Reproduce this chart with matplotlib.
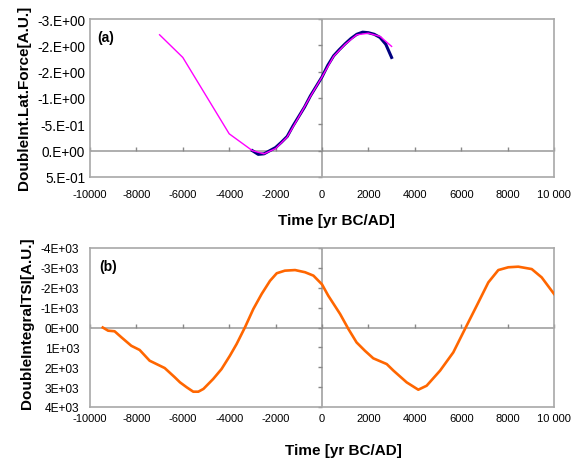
import matplotlib
matplotlib.use('Agg')
import matplotlib.pyplot as plt
from matplotlib.markers import TICKUP, TICKLEFT

plt.rcParams['font.family'] = ['Liberation Sans', 'DejaVu Sans']

# (a) double integral of the lateral force
lat_mod_years = [-7000, -6000, -4000, -3000, -2500, -2000, -1500, -1000,
                 -500, 0, 500, 1000, 1500, 2000, 2500, 3000]
lat_mod_vals = [-2.20, -1.77, -0.32, 0.00, 0.06, -0.04, -0.26, -0.64,
                -1.03, -1.40, -1.79, -2.02, -2.20, -2.23, -2.17, -1.98]

lat_obs_years = [-3000, -2750, -2500, -2250, -2000, -1750, -1500, -1250,
                 -1000, -750, -500, -250, 0, 250, 500, 750, 1000, 1250,
                 1500, 1750, 2000, 2250, 2500, 2750, 3000]
lat_obs_vals = [0.00, 0.07, 0.06, 0.00, -0.06, -0.16, -0.27, -0.47,
                -0.65, -0.83, -1.04, -1.22, -1.40, -1.62, -1.80, -1.92,
                -2.03, -2.13, -2.21, -2.25, -2.24, -2.21, -2.15, -2.02, -1.77]

# (b) double integral of TSI
tsi_years = [-9450, -9220, -8940, -8650, -8220, -7860, -7430, -6780,
             -6350, -6120, -5830, -5550, -5330, -5110, -4690, -4330,
             -3970, -3680, -3320, -2960, -2600, -2240, -1950, -1600,
             -1160, -730, -370, 0, 270, 780, 1140, 1490, 1850, 2210,
             2790, 3080, 3650, 4150, 4510, 5090, 5660, 6160, 6670,
             7170, 7600, 8030, 8460, 9040, 9470, 10000]
tsi_vals = [0, 160, 190, 490, 920, 1130, 1670, 2040,
            2500, 2760, 3010, 3230, 3230, 3090, 2590, 2090,
            1420, 830, -10, -930, -1690, -2350, -2730, -2860,
            -2890, -2780, -2610, -2170, -1600, -680, 80, 750, 1170, 1550,
            1840, 2170, 2760, 3130, 2930, 2170, 1250, 80, -1100,
            -2270, -2890, -3030, -3060, -2940, -2520, -1690]

x_ticks = list(range(-10000, 10001, 2000))
x_labels = ['-10000', '-8000', '-6000', '-4000', '-2000', '0',
            '2000', '4000', '6000', '8000', '10 000']

lat_ticks = [-2.5, -2.0, -1.5, -1.0, -0.5, 0.0, 0.5]
lat_labels = ['-3.E+00', '-2.E+00', '-2.E+00', '-1.E+00', '-5.E-01',
              '0.E+00', '5.E-01']

tsi_ticks = list(range(-4000, 4001, 1000))
tsi_labels = ['-4E+03', '-3E+03', '-2E+03', '-1E+03', '0E+00',
              '1E+03', '2E+03', '3E+03', '4E+03']

GRID = '#a8a8a8'


def style_axes(ax, yticks, ylabels, ysize, ypad, xpad):
    ax.set_xlim(-10000, 10000)
    ax.set_ylim(yticks[-1], yticks[0])
    ax.set_xticks(x_ticks)
    ax.set_xticklabels(x_labels)
    ax.set_yticks(yticks)
    ax.set_yticklabels(ylabels)
    ax.tick_params(axis='x', length=0, pad=xpad, labelsize=8)
    ax.tick_params(axis='y', length=0, pad=ypad, labelsize=ysize)
    for sp in ax.spines.values():
        sp.set_color(GRID)
        sp.set_linewidth(1.2)
    # axes crossing at zero, with their tick marks
    ax.axhline(0, color=GRID, lw=1.3, zorder=1)
    ax.axvline(0, color=GRID, lw=1.3, zorder=1)
    ax.plot(x_ticks, [0] * len(x_ticks), ls='none', marker=TICKUP,
            ms=3, mew=1, color='#888888', zorder=1, clip_on=False)
    ax.plot([0] * len(yticks), yticks, ls='none', marker=TICKLEFT,
            ms=3, mew=1, color='#888888', zorder=1, clip_on=False)


fig = plt.figure(figsize=(5.85, 4.64), dpi=100)

ax1 = fig.add_axes([90 / 585, 1 - 178 / 464, 464 / 585, 158 / 464])
style_axes(ax1, lat_ticks, lat_labels, 9.8, 3.5, 8.3)
ax1.plot(lat_obs_years, lat_obs_vals, color='#000080', lw=2.2, zorder=3)
ax1.plot(lat_mod_years, lat_mod_vals, color='#ff00ff', lw=1.0, zorder=4)
ax1.text(0.0345, 0.889, '(a)', transform=ax1.transAxes,
         fontsize=10, fontweight='bold', ha='center', va='center')

ax2 = fig.add_axes([90 / 585, 1 - 408 / 464, 464 / 585, 159 / 464])
style_axes(ax2, tsi_ticks, tsi_labels, 8.6, 7.7, 4.3)
ax2.plot(tsi_years, tsi_vals, color='#ff6600', lw=1.9, zorder=3,
         solid_joinstyle='round')
ax2.text(0.039, 0.884, '(b)', transform=ax2.transAxes,
         fontsize=10, fontweight='bold', ha='center', va='center')

fig.text(24 / 585, 1 - 97.5 / 464, 'DoubleInt.Lat.Force[A.U.]',
         rotation=90, fontsize=11, fontweight='bold',
         ha='center', va='center')
fig.text(27 / 585, 1 - 323.5 / 464, 'DoubleIntegralTSI[A.U.]',
         rotation=90, fontsize=11, fontweight='bold',
         ha='center', va='center')
fig.text(336 / 585, 1 - 221 / 464, 'Time [yr BC/AD]', fontsize=11,
         fontweight='bold', ha='center', va='center')
fig.text(343 / 585, 1 - 451 / 464, 'Time [yr BC/AD]', fontsize=11,
         fontweight='bold', ha='center', va='center')

fig.savefig('out.png', dpi=100)
